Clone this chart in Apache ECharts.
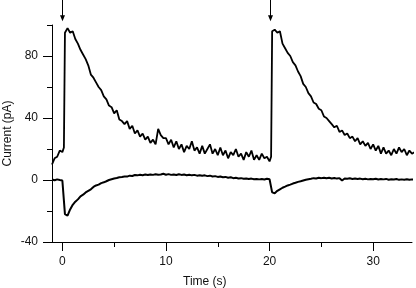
<!DOCTYPE html>
<html>
<head>
<meta charset="utf-8">
<script src="https://cdn.jsdelivr.net/npm/echarts@6/dist/echarts.min.js"></script>
<style>
html,body{margin:0;padding:0;background:#fff;}
#c{width:416px;height:288px;}
</style>
</head>
<body>
<div id="c"></div>
<script>
// Time samples (s)
const timeS = [
  -1,-0.75,-0.5,-0.25,
  0,0.15,0.25,0.5,0.75,
  1,1.25,1.5,1.75,
  2,2.25,2.5,2.75,
  3,3.25,3.5,3.75,
  4,4.25,4.5,4.75,
  5,5.25,5.5,5.75,
  6,6.25,6.5,6.75,
  7,7.25,7.5,7.75,
  8,8.25,8.5,8.75,
  9,9.25,9.5,9.75,
  10,10.25,10.5,10.75,
  11,11.25,11.5,11.75,
  12,12.25,12.5,12.75,
  13,13.25,13.5,13.75,
  14,14.25,14.5,14.75,
  15,15.25,15.5,15.75,
  16,16.25,16.5,16.75,
  17,17.25,17.5,17.75,
  18,18.25,18.5,18.75,
  19,19.25,19.5,19.75,
  20,20.15,20.25,20.5,20.75,
  21,21.25,21.5,21.75,
  22,22.25,22.5,22.75,
  23,23.25,23.5,23.75,
  24,24.25,24.5,24.75,
  25,25.25,25.5,25.75,
  26,26.25,26.5,26.75,
  27,27.25,27.5,27.75,
  28,28.25,28.5,28.75,
  29,29.25,29.5,29.75,
  30,30.25,30.5,30.75,
  31,31.25,31.5,31.75,
  32,32.25,32.5,32.75,
  33,33.25,33.5,33.75,
  34
];
// Upper trace (pA)
const upperTrace = [
  10,14,15,19,
  18,21,95,98,95,
  96,91,88,84,
  81,78,74,68,
  66,63,60,58,
  54,52,48,47,
  43,45,39,38,
  36,38,33,35,
  30,32,28,30,
  26,28,24,26,
  23,33,29,27,
  27,23,26,21,
  25,20,23,18,
  22,20,25,19,
  21,17,22,17,
  20,23,17,20,
  16,21,16,19,
  14,18,16,20,
  15,17,13,18,
  15,19,13,16,
  13,17,14,15,
  12,15,96,97,95,
  96,88,85,82,
  80,76,74,70,
  67,62,60,56,
  54,50,49,46,
  45,41,40,38,
  36,34,35,31,
  32,29,30,27,
  28,25,27,23,
  25,22,24,20,
  23,19,22,17,
  21,17,19,16,
  20,17,21,18,
  20,16,19,17,
  18
];
// Lower trace (pA)
const lowerTrace = [
  0.3,-0.2,0.4,0,
  -0.3,-0.5,-22,-23,-19,
  -16,-14,-12.5,-10.5,
  -9.5,-8,-7,-6,
  -4.5,-3.5,-3,-2,
  -1.5,-0.8,0,0.5,
  1,1.3,1.8,2,
  2.3,2.2,2.8,2.6,
  3.2,3,3.4,3.1,
  3.5,3.2,3.6,3.3,
  3.7,3.4,3.5,4,
  3.4,3.8,3.3,3.6,
  3.2,3.7,3.3,3.5,
  3.1,3.4,3,3.3,
  2.8,3.1,2.7,3,
  2.5,2.8,2.3,2.5,
  2,2.3,1.8,2,
  1.5,1.8,1.2,1.4,
  1,1.2,0.8,1,
  0.6,0.9,0.5,0.7,
  0.4,0.6,0.3,0.8,
  0.5,0.3,-8,-8.5,-7,
  -6,-5,-4.3,-3.5,
  -3,-2.3,-1.8,-1.2,
  -0.8,-0.3,0.2,0.5,
  0.8,1.2,1,1.4,
  1.2,1.5,1.1,1.4,
  1,1.3,0.9,1.2,
  -0.3,1,0.8,1.1,
  0.7,1,0.6,0.9,
  0.5,0.8,0.4,0.7,
  0.5,0.8,0.3,0.6,
  0.4,0.7,0.2,0.5,
  0.3,0.6,0.1,0.4,
  0.2,0.5,0.1,0.4,
  0.2
];
// Stimulus arrows (s) and their extent (pA)
const arrowTimes = [0, 20];
const arrowFrom = 117;
const arrowTo = 102.5;
// Tick values
const xMajorTicks = [0, 10, 20, 30];
const xMinorTicks = [5, 15, 25];
const yMajorTicks = [-40, 0, 40, 80];
const yMinorTicks = [-20, 20, 60, 100];

const FONT = 'Liberation Sans, Arial, sans-serif';
const chart = echarts.init(document.getElementById('c'), null, {renderer: 'canvas'});

const upperData = timeS.map((t, i) => [t, upperTrace[i]]);
const lowerData = timeS.map((t, i) => [t, lowerTrace[i]]);
const arrowData = arrowTimes.map(t => [t, arrowFrom, arrowTo]);

chart.setOption({
  animation: false,
  backgroundColor: '#fff',
  grid: {left: 52, top: 25, right: 4, bottom: 46, containLabel: false, outerBoundsMode: 'none'},
  xAxis: [{
    type: 'value', min: -1.0, max: 33.75, position: 'bottom',
    axisLine: {show: true, onZero: false, lineStyle: {color: '#000', width: 1}},
    axisTick: {show: true, customValues: xMajorTicks, length: 9, lineStyle: {color: '#000'}},
    axisLabel: {show: true, customValues: xMajorTicks, margin: 14, color: '#111', fontSize: 12, fontFamily: FONT},
    splitLine: {show: false}
  }, {
    type: 'value', min: -1.0, max: 33.75, position: 'bottom',
    axisLine: {show: false, onZero: false},
    axisTick: {show: true, customValues: xMinorTicks, length: 5, lineStyle: {color: '#000'}},
    axisLabel: {show: false},
    splitLine: {show: false}
  }],
  yAxis: [{
    type: 'value', min: -40, max: 100, position: 'left',
    name: 'Current (pA)', nameLocation: 'middle', nameGap: 38, nameMoveOverlap: false,
    nameTextStyle: {color: '#111', fontSize: 12, fontFamily: FONT},
    axisLine: {show: true, onZero: false, lineStyle: {color: '#000', width: 1}},
    axisTick: {show: true, customValues: yMajorTicks, length: 9, lineStyle: {color: '#000'}},
    axisLabel: {show: true, customValues: yMajorTicks, margin: 14, color: '#111', fontSize: 12, fontFamily: FONT},
    splitLine: {show: false}
  }, {
    type: 'value', min: -40, max: 100, position: 'left',
    axisLine: {show: false, onZero: false},
    axisTick: {show: true, customValues: yMinorTicks, length: 5, lineStyle: {color: '#000'}},
    axisLabel: {show: false},
    splitLine: {show: false}
  }],
  graphic: [{
    type: 'text', left: 183, top: 276,
    style: {text: 'Time (s)', fill: '#111', font: '12px ' + FONT}
  }],
  series: [{
    type: 'line', data: upperData, xAxisIndex: 0, yAxisIndex: 0,
    showSymbol: false, symbol: 'none', clip: false,
    lineStyle: {color: '#000', width: 1.8}
  }, {
    type: 'line', data: lowerData, xAxisIndex: 0, yAxisIndex: 0,
    showSymbol: false, symbol: 'none', clip: false,
    lineStyle: {color: '#000', width: 2}
  }, {
    type: 'custom', data: arrowData, xAxisIndex: 0, yAxisIndex: 0, clip: false, silent: true,
    renderItem: function (params, api) {
      const p0 = api.coord([api.value(0), api.value(1)]);
      const p1 = api.coord([api.value(0), api.value(2)]);
      const x = Math.round(p0[0]) + 0.5;
      return {
        type: 'group',
        children: [{
          type: 'line',
          shape: {x1: x, y1: p0[1], x2: x, y2: p1[1] - 4},
          style: {stroke: '#000', lineWidth: 1}
        }, {
          type: 'polygon',
          shape: {points: [[x - 2.5, p1[1] - 6], [x + 2.5, p1[1] - 6], [x, p1[1]]]},
          style: {fill: '#000'}
        }]
      };
    }
  }]
});
</script>
</body>
</html>
